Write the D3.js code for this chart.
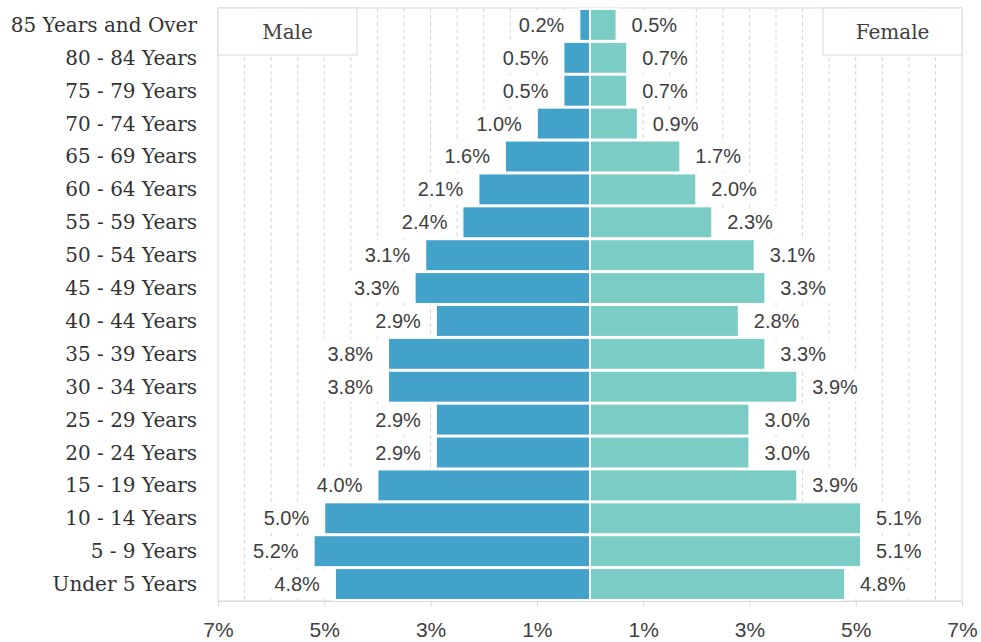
<!DOCTYPE html>
<html lang="en">
<head>
<meta charset="utf-8" />
<title>Population Pyramid</title>
<style>
  body { margin: 0; background: #fff; }
</style>
</head>
<body>
<div id="chart"></div>
<script src="https://d3js.org/d3.v7.min.js"></script>
<script>
  const ageGroups = ["85 Years and Over", "80 - 84 Years", "75 - 79 Years", "70 - 74 Years",
    "65 - 69 Years", "60 - 64 Years", "55 - 59 Years", "50 - 54 Years", "45 - 49 Years",
    "40 - 44 Years", "35 - 39 Years", "30 - 34 Years", "25 - 29 Years", "20 - 24 Years",
    "15 - 19 Years", "10 - 14 Years", "5 - 9 Years", "Under 5 Years"];
  const male = [0.2, 0.5, 0.5, 1.0, 1.6, 2.1, 2.4, 3.1, 3.3, 2.9, 3.8, 3.8, 2.9, 2.9, 4.0, 5.0, 5.2, 4.8];
  const female = [0.5, 0.7, 0.7, 0.9, 1.7, 2.0, 2.3, 3.1, 3.3, 2.8, 3.3, 3.9, 3.0, 3.0, 3.9, 5.1, 5.1, 4.8];
  const tickValues = [-7, -5, -3, -1, 1, 3, 5, 7];
  const seriesNames = ["Male", "Female"];

  const width = 981, height = 642;
  const plotLeft = 218, plotRight = 962, plotTop = 8, plotBottom = 601;
  const serif = "'DejaVu Serif', serif";
  const sans = "'Liberation Sans', Arial, sans-serif";

  const svg = d3.select("#chart").append("svg")
    .attr("width", width)
    .attr("height", height);

  const x = d3.scaleLinear().domain([-7, 7]).range([plotLeft, plotRight]);
  const y = d3.scaleBand().domain(ageGroups).range([plotTop, plotBottom])
    .paddingInner(0.03).paddingOuter(0.03);

  // dashed grid every 0.5%
  const grid = d3.range(-6.5, 7, 0.5).filter(d => d !== 0);
  svg.append("g").selectAll("line")
    .data(grid)
    .enter().append("line")
    .attr("x1", d => x(d)).attr("x2", d => x(d))
    .attr("y1", plotTop).attr("y2", plotBottom)
    .attr("stroke", "#d4d4d4")
    .attr("stroke-dasharray", "4,3");

  // plot border
  svg.append("rect")
    .attr("x", plotLeft).attr("y", plotTop)
    .attr("width", plotRight - plotLeft).attr("height", plotBottom - plotTop)
    .attr("fill", "none")
    .attr("stroke", "#d9d9d9");

  // bottom axis
  const axis = svg.append("g")
    .attr("transform", `translate(0,${plotBottom})`)
    .call(d3.axisBottom(x)
      .tickValues(tickValues)
      .tickFormat(d => Math.abs(d) + "%")
      .tickSize(6)
      .tickSizeOuter(0)
      .tickPadding(15));
  axis.select(".domain").attr("stroke", "#d9d9d9");
  axis.selectAll(".tick line").attr("stroke", "#d9d9d9");
  axis.selectAll(".tick text")
    .attr("font-family", sans)
    .attr("font-size", 21)
    .attr("fill", "#404040");

  // category labels
  svg.append("g").selectAll("text")
    .data(ageGroups)
    .enter().append("text")
    .attr("x", 197)
    .attr("y", d => y(d) + y.bandwidth() / 2)
    .attr("dy", "0.35em")
    .attr("text-anchor", "end")
    .attr("font-family", serif)
    .attr("font-size", 20)
    .attr("fill", "#333")
    .text(d => d);

  // bars
  const rows = ageGroups.map((g, i) => ({ group: g, male: male[i], female: female[i] }));

  svg.append("g").selectAll("rect")
    .data(rows)
    .enter().append("rect")
    .attr("x", d => x(-d.male))
    .attr("y", d => y(d.group))
    .attr("width", d => x(0) - x(-d.male))
    .attr("height", y.bandwidth())
    .attr("fill", "#43a2ca")
    .attr("stroke", "#fff")
    .attr("stroke-width", 2);

  svg.append("g").selectAll("rect")
    .data(rows)
    .enter().append("rect")
    .attr("x", x(0))
    .attr("y", d => y(d.group))
    .attr("width", d => x(d.female) - x(0))
    .attr("height", y.bandwidth())
    .attr("fill", "#7bccc4")
    .attr("stroke", "#fff")
    .attr("stroke-width", 2);

  // data labels with white boxes
  function addLabels(side) {
    const g = svg.append("g");
    rows.forEach(d => {
      const v = d[side];
      const lab = g.append("g");
      const box = lab.append("rect").attr("fill", "#fff");
      const t = lab.append("text")
        .attr("x", side === "male" ? x(-v) - 15 : x(v) + 15)
        .attr("y", y(d.group) + y.bandwidth() / 2)
        .attr("dy", "0.35em")
        .attr("text-anchor", side === "male" ? "end" : "start")
        .attr("font-family", sans)
        .attr("font-size", 20)
        .attr("fill", "#404040")
        .text(v.toFixed(1) + "%");
      const b = t.node().getBBox();
      box.attr("x", b.x - 7).attr("width", b.width + 14)
        .attr("y", y(d.group) + 1).attr("height", y.bandwidth() - 2);
    });
  }
  addLabels("male");
  addLabels("female");

  // series boxes in the top corners
  const legend = [
    { name: seriesNames[0], x0: plotLeft, x1: 357 },
    { name: seriesNames[1], x0: 823, x1: plotRight }
  ];
  const lg = svg.append("g").selectAll("g")
    .data(legend)
    .enter().append("g");
  lg.append("rect")
    .attr("x", d => d.x0).attr("y", plotTop)
    .attr("width", d => d.x1 - d.x0).attr("height", 47)
    .attr("fill", "#fff")
    .attr("stroke", "#d9d9d9");
  lg.append("text")
    .attr("x", d => (d.x0 + d.x1) / 2)
    .attr("y", plotTop + 24)
    .attr("dy", "0.35em")
    .attr("text-anchor", "middle")
    .attr("font-family", serif)
    .attr("font-size", 20)
    .attr("fill", "#404040")
    .text(d => d.name);
</script>
</body>
</html>
